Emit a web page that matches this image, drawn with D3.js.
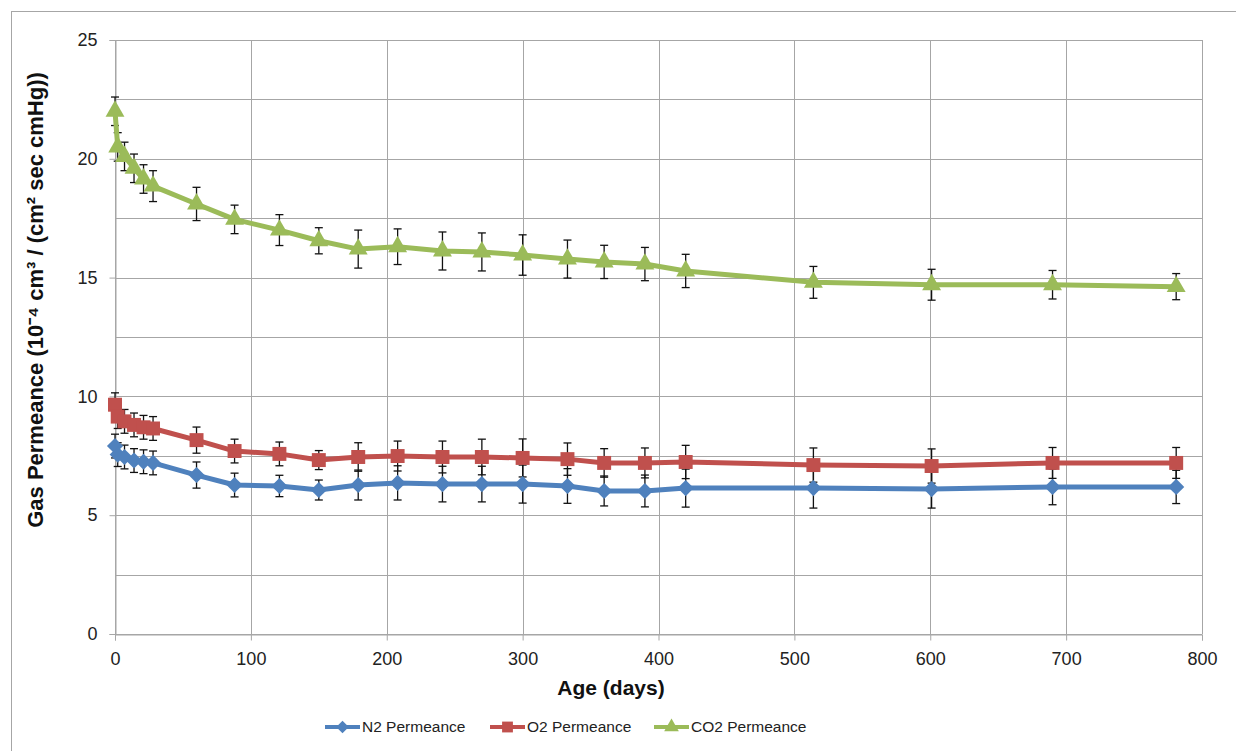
<!DOCTYPE html>
<html>
<head>
<meta charset="utf-8">
<script src="https://cdn.jsdelivr.net/npm/d3@7"></script>
<style>
  body { margin: 0; background: #fff; }
  svg { display: block; font-family: "Liberation Sans", Arial, sans-serif; }
</style>
</head>
<body>
<div id="chart"></div>
<script>
var width = 1236;
var height = 751;

// age of the membrane in days
var days = [0, 2, 7, 14, 21, 28, 60, 88, 121, 150, 179, 208, 241, 270, 300, 333, 360, 390, 420, 514, 601, 690, 781];

var n2 = [7.91, 7.55, 7.45, 7.3, 7.25, 7.2, 6.69, 6.27, 6.23, 6.06, 6.27, 6.36, 6.31, 6.31, 6.31, 6.23, 6.02, 6.02, 6.14, 6.14, 6.1, 6.19, 6.19];
var n2Err = [0.5, 0.5, 0.5, 0.5, 0.5, 0.5, 0.55, 0.5, 0.45, 0.42, 0.63, 0.72, 0.75, 0.75, 0.8, 0.73, 0.63, 0.67, 0.8, 0.84, 0.8, 0.75, 0.7];

var o2 = [9.65, 9.15, 8.95, 8.8, 8.7, 8.65, 8.16, 7.7, 7.58, 7.32, 7.45, 7.49, 7.45, 7.45, 7.41, 7.36, 7.2, 7.2, 7.24, 7.11, 7.07, 7.2, 7.2];
var o2Err = [0.5, 0.5, 0.5, 0.5, 0.5, 0.5, 0.55, 0.5, 0.5, 0.4, 0.6, 0.63, 0.67, 0.75, 0.8, 0.68, 0.6, 0.63, 0.7, 0.72, 0.72, 0.65, 0.65];

var co2 = [22.0, 20.5, 20.1, 19.6, 19.15, 18.85, 18.1, 17.45, 17.0, 16.55, 16.2, 16.3, 16.12, 16.08, 15.95, 15.78, 15.66, 15.57, 15.28, 14.8, 14.7, 14.7, 14.62];
var co2Err = [0.6, 0.6, 0.6, 0.6, 0.6, 0.65, 0.7, 0.6, 0.65, 0.55, 0.8, 0.75, 0.8, 0.8, 0.85, 0.8, 0.7, 0.7, 0.7, 0.67, 0.65, 0.6, 0.55];

var seriesNames = ['N2 Permeance', 'O2 Permeance', 'CO2 Permeance'];
var xTicks = [0, 100, 200, 300, 400, 500, 600, 700, 800];
var yTicks = [0, 5, 10, 15, 20, 25];
var yGrid = [0, 2.5, 5, 7.5, 10, 12.5, 15, 17.5, 20, 22.5, 25];

var colors = ['#4f81bd', '#c0504d', '#9bbb59'];
var symbols = [d3.symbolSquare, d3.symbolSquare, d3.symbolTriangle];
var symbolSizes = [130, 195, 155];
var symbolRotate = [45, 0, 0];

var series = [
  { name: seriesNames[0], values: n2, err: n2Err },
  { name: seriesNames[1], values: o2, err: o2Err },
  { name: seriesNames[2], values: co2, err: co2Err }
];

var plotLeft = 115, plotRight = 1202, plotTop = 40, plotBottom = 634;

var x = d3.scaleLinear().domain([0, 800]).range([plotLeft, plotRight]);
var y = d3.scaleLinear().domain([0, 25]).range([plotBottom, plotTop]);

var svg = d3.select('#chart')
  .append('svg')
  .attr('width', width)
  .attr('height', height);

// chart frame
svg.append('rect')
  .attr('x', 11.5).attr('y', 11.5)
  .attr('width', 1300).attr('height', 800)
  .attr('fill', '#fff')
  .attr('stroke', '#a6a6a6');

// grid
svg.append('g').selectAll('line')
  .data(yGrid)
  .enter().append('line')
  .attr('x1', plotLeft).attr('x2', plotRight)
  .attr('y1', function(d) { return Math.round(y(d)) + 0.5; })
  .attr('y2', function(d) { return Math.round(y(d)) + 0.5; })
  .attr('stroke', '#a6a6a6');

svg.append('g').selectAll('line')
  .data(xTicks)
  .enter().append('line')
  .attr('y1', plotTop).attr('y2', plotBottom)
  .attr('x1', function(d) { return Math.round(x(d)) + 0.5; })
  .attr('x2', function(d) { return Math.round(x(d)) + 0.5; })
  .attr('stroke', '#a6a6a6');

// axes
var yAxis = svg.append('g')
  .attr('transform', 'translate(' + (plotLeft + 0.5) + ',0)')
  .call(d3.axisLeft(y).tickValues(yTicks).tickSize(6).tickPadding(12));

var xAxis = svg.append('g')
  .attr('transform', 'translate(0,' + (plotBottom + 0.5) + ')')
  .call(d3.axisBottom(x).tickValues(xTicks).tickSize(6).tickPadding(12));

[xAxis, yAxis].forEach(function(a) {
  a.select('.domain').attr('stroke', '#a6a6a6');
  a.selectAll('.tick line').attr('stroke', '#a6a6a6');
  a.selectAll('.tick text')
    .attr('fill', '#222')
    .style('font-size', '18px')
    .style('font-family', '"Liberation Sans", Arial, sans-serif');
});

// axis titles
svg.append('text')
  .attr('x', 611).attr('y', 695)
  .attr('text-anchor', 'middle')
  .style('font-size', '21px')
  .style('font-weight', 'bold')
  .attr('fill', '#111')
  .text('Age (days)');

svg.append('text')
  .attr('transform', 'translate(43,300) rotate(-90)')
  .attr('text-anchor', 'middle')
  .style('font-size', '22px')
  .style('font-weight', 'bold')
  .attr('fill', '#111')
  .text('Gas Permeance (10\u207B\u2074 cm\u00B3 / (cm\u00B2 sec cmHg))');

// error bars
series.forEach(function(s) {
  var g = svg.append('g').attr('stroke', '#111').attr('stroke-width', 1.3);
  s.values.forEach(function(v, i) {
    var cx = x(days[i]);
    var y1 = y(v + s.err[i]);
    var y2 = y(v - s.err[i]);
    g.append('line').attr('x1', cx).attr('x2', cx).attr('y1', y1).attr('y2', y2);
    g.append('line').attr('x1', cx - 4).attr('x2', cx + 4).attr('y1', y1).attr('y2', y1);
    g.append('line').attr('x1', cx - 4).attr('x2', cx + 4).attr('y1', y2).attr('y2', y2);
  });
});

var line = d3.line()
  .x(function(d) { return x(d[0]); })
  .y(function(d) { return y(d[1]); });

series.forEach(function(s, k) {
  var pts = s.values.map(function(v, i) { return [days[i], v]; });
  svg.append('path')
    .datum(pts)
    .attr('d', line)
    .attr('fill', 'none')
    .attr('stroke', colors[k])
    .attr('stroke-width', 5)
    .attr('stroke-linejoin', 'round');

  svg.append('g').selectAll('path')
    .data(pts)
    .enter().append('path')
    .attr('d', d3.symbol().type(symbols[k]).size(symbolSizes[k]))
    .attr('transform', function(d) {
      return 'translate(' + x(d[0]) + ',' + y(d[1]) + ') rotate(' + symbolRotate[k] + ')';
    })
    .attr('fill', colors[k]);
});

// legend
var legendX = [325, 490, 654];
var legend = svg.append('g').selectAll('g')
  .data(series)
  .enter().append('g')
  .attr('transform', function(d, i) { return 'translate(' + legendX[i] + ',727)'; });

legend.append('line')
  .attr('x1', 0).attr('x2', 35)
  .attr('stroke', function(d, i) { return colors[i]; })
  .attr('stroke-width', 4);

legend.append('path')
  .attr('d', function(d, i) { return d3.symbol().type(symbols[i]).size(symbolSizes[i] * 0.6)(); })
  .attr('transform', function(d, i) { return 'translate(17.5,0) rotate(' + symbolRotate[i] + ')'; })
  .attr('fill', function(d, i) { return colors[i]; });

legend.append('text')
  .attr('x', 37)
  .attr('dy', '0.35em')
  .style('font-size', '15.5px')
  .attr('fill', '#222')
  .text(function(d) { return d.name; });
</script>
</body>
</html>
